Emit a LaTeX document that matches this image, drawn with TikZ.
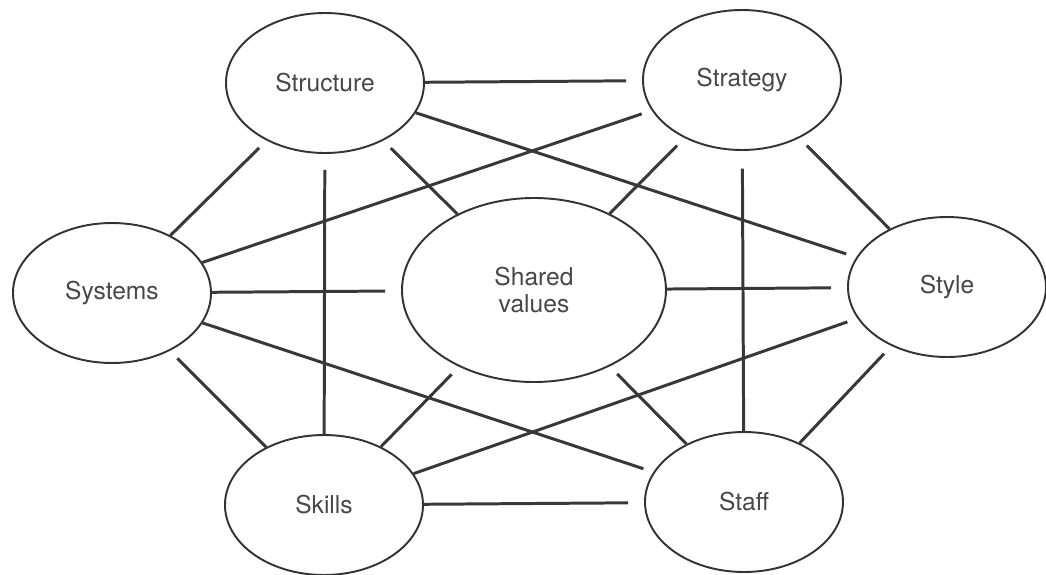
\documentclass[tikz,border=0pt]{standalone}
\usepackage{fontspec}
\setmainfont{TeX Gyre Heros}
\usetikzlibrary{shapes}

\begin{document}
\begin{tikzpicture} [
    line width=1.7pt,
  ]
  \useasboundingbox (-10.68,-5.68) rectangle (10.24,5.8);

  \tikzstyle{element} = [
    ellipse,
    line width=1.1pt,
    draw=black!80,
    text=black!72,
    font=\fontsize{14}{15}\selectfont,
    minimum width=3.96cm,
    minimum height=2.8cm,
    inner sep=0pt,
  ]
  \tikzstyle{core} = [
    element,
    minimum width=5.28cm,
    minimum height=3.68cm,
    align=center,
  ]
  \tikzstyle{link} = [
    draw=black!78,
    shorten >=6pt,
  ]

  \node[core]                      (shared)    {Shared\\values};
  \node[element] at (-4.18,4.14)   (structure) {Structure};
  \node[element] at (4.16,4.2)     (strategy)  {Strategy};
  \node[element] at (-8.44,-0.06)  (systems)   {Systems};
  \node[element] at (8.26,0.06)    (style)     {Style};
  \node[element] at (-4.2,-4.3)    (skills)    {Skills};
  \node[element] at (4.2,-4.24)    (staff)     {Staff};

  \path[link,shorten >=9pt] (structure) edge (strategy);
  \path[link] (structure) edge (style);
  \path[link] (systems)   edge (structure);
  \path[link,shorten >=9pt] (skills) edge (structure);
  \path[link] (shared)    edge (structure);
  \path[link] (systems)   edge (strategy);
  \path[link] (shared)    edge (strategy);
  \path[link,shorten >=10pt] (staff) edge (strategy);
  \path[link] (style)     edge (strategy);
  \path[link,shorten >=9pt] (systems) edge (shared);
  \path[link] (systems)   edge (staff);
  \path[link] (skills)    edge (systems);
  \path[link,shorten >=9pt] (shared) edge (style);
  \path[link] (skills)    edge (shared);
  \path[link] (staff)     edge (shared);
  \path[link] (skills)    edge (style);
  \path[link] (staff)     edge (style);
  \path[link,shorten >=9pt] (skills) edge (staff);

\end{tikzpicture}
\end{document}
